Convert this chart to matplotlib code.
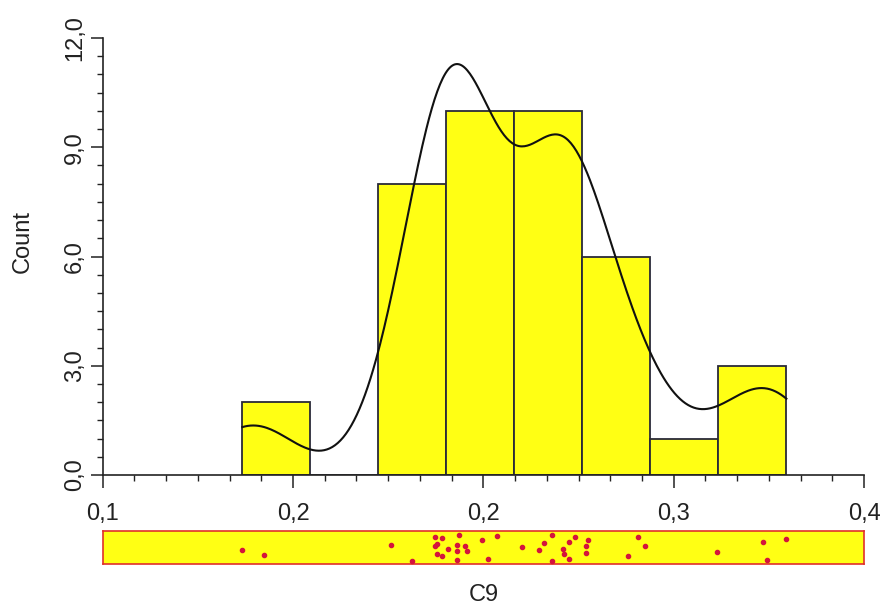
import numpy as np
import matplotlib
matplotlib.use("Agg")
import matplotlib.pyplot as plt
from matplotlib.ticker import MultipleLocator

plt.rcParams["font.family"] = ["Liberation Sans", "DejaVu Sans"]

# C9 observations (40 samples)
c9 = [0.1550, 0.1634, 0.2135, 0.2219, 0.2309, 0.2309, 0.2316, 0.2319,
      0.2336, 0.2337, 0.2359, 0.2395, 0.2395, 0.2395, 0.2403, 0.2428,
      0.2437, 0.2493, 0.2520, 0.2553, 0.2653, 0.2719, 0.2738, 0.2769,
      0.2769, 0.2813, 0.2819, 0.2836, 0.2838, 0.2860, 0.2903, 0.2903,
      0.2911, 0.3069, 0.3111, 0.3137, 0.3421, 0.3603, 0.3619, 0.3694]
# vertical jitter of each point in the strip below
jitter = [0.40, 0.24, 0.59, 0.06, 0.84, 0.55, 0.62, 0.27, 0.82, 0.20,
          0.44, 0.58, 0.37, 0.07, 0.91, 0.54, 0.37, 0.75, 0.11, 0.86,
          0.51, 0.40, 0.65, 0.90, 0.05, 0.43, 0.27, 0.67, 0.12, 0.84,
          0.56, 0.32, 0.75, 0.20, 0.83, 0.54, 0.34, 0.66, 0.08, 0.77]

n_bins = 8
kde_bw = 0.0160
xticks = [0.1, 0.175, 0.25, 0.325, 0.4]
xticklabels = ["0,1", "0,2", "0,2", "0,3", "0,4"]
yticks = [0, 3, 6, 9, 12]
yticklabels = ["0,0", "3,0", "6,0", "9,0", "12,0"]

data = np.array(c9)
lo, hi = data.min(), data.max()
binw = (hi - lo) / n_bins

fig = plt.figure(figsize=(8.86, 6.09), dpi=100)
ax = fig.add_axes([0.1159, 0.22, 0.8593, 0.7176])
ax.hist(data, bins=n_bins, range=(lo, hi), color="#ffff14",
        edgecolor="#2a2a38", linewidth=1.3, zorder=2)

# gaussian kernel density over the data range, scaled to counts per bin
grid = np.linspace(lo, hi, 400)
dens = np.exp(-0.5 * ((grid[:, None] - data[None, :]) / kde_bw) ** 2).sum(axis=1)
dens = dens / np.trapezoid(dens, grid)
ax.plot(grid, dens * len(data) * binw, color="#111111", linewidth=1.5, zorder=3)

ax.set_xlim(0.1, 0.4)
ax.set_ylim(0, 12)
for side in ["top", "right"]:
    ax.spines[side].set_visible(False)
for side in ["left", "bottom"]:
    ax.spines[side].set_color("#222222")
    ax.spines[side].set_linewidth(1.2)
    ax.spines[side].set_zorder(4)

ax.set_xticks(xticks)
ax.set_xticklabels(xticklabels)
ax.set_yticks(yticks)
ax.set_yticklabels(yticklabels, rotation=90, va="center")
ax.xaxis.set_minor_locator(MultipleLocator(0.0125))
ax.yaxis.set_minor_locator(MultipleLocator(0.5))
ax.tick_params(which="major", length=9, width=1.1, color="#222222",
               labelsize=17, labelcolor="#222222")
ax.tick_params(axis="x", which="major", pad=11)
ax.tick_params(axis="y", which="major", pad=3)
ax.tick_params(which="minor", length=4.5, width=1.0, color="#222222")

fig.text(0.026, 0.603, "Count", rotation=90, ha="center", va="center",
         fontsize=17, color="#222222")

# strip of raw values
sx = fig.add_axes([0.1159, 0.0739, 0.8593, 0.0547])
sx.set_facecolor("#ffff14")
sx.scatter(data, jitter, s=9, color="#d4143c", zorder=3)
sx.set_xlim(0.1, 0.4)
sx.set_ylim(-0.05, 1.05)
sx.set_xticks([])
sx.set_yticks([])
for sp in sx.spines.values():
    sp.set_color("#e0302a")
    sp.set_linewidth(1.2)

fig.text(0.546, 0.023, "C9", ha="center", va="center", fontsize=17,
         color="#222222")

fig.savefig("out.png", dpi=100)
